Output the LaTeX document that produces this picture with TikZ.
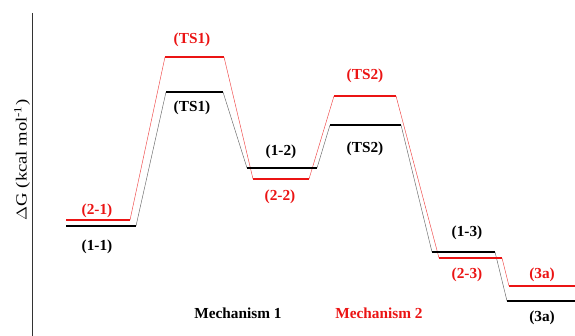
\documentclass[tikz,border=0pt]{standalone}
\usepackage{fontspec}
\setmainfont{Liberation Serif}
\definecolor{mred}{RGB}{235,20,20}
\begin{document}
\begin{tikzpicture}[x=1pt,y=-1pt,
  level/.style={line width=2.6pt},
  link/.style={line width=0.45pt},
  lab/.style={font=\bfseries\fontsize{15.3}{17}\selectfont, inner sep=0pt}]
\useasboundingbox (0,0) rectangle (575,336);

% energy axis
\draw[line width=0.8pt, black!80] (32,13) coordinate (axtop) -- (32,336) coordinate (axbot);
\node[rotate=90, font=\fontsize{15.5}{17}\selectfont, inner sep=0pt] (ylab) at (22,160)
  {\scalebox{1.2}[1]{$\Delta$G (kcal mol\textsuperscript{-1})}};

% mechanism 1 (black) levels
\coordinate (b1l) at (66,226);  \coordinate (b1r) at (136,226);
\coordinate (b2l) at (166,92);  \coordinate (b2r) at (223,92);
\coordinate (b3l) at (247,168); \coordinate (b3r) at (317,168);
\coordinate (b4l) at (330,125); \coordinate (b4r) at (401,125);
\coordinate (b5l) at (432,252); \coordinate (b5r) at (495,252);
\coordinate (b6l) at (507,301); \coordinate (b6r) at (575,301);

% mechanism 2 (red) levels
\coordinate (r1l) at (66,220);  \coordinate (r1r) at (130,220);
\coordinate (r2l) at (165,57);  \coordinate (r2r) at (224,57);
\coordinate (r3l) at (253,179); \coordinate (r3r) at (309,179);
\coordinate (r4l) at (334,96);  \coordinate (r4r) at (396,96);
\coordinate (r5l) at (439,258); \coordinate (r5r) at (502,258);
\coordinate (r6l) at (509,286); \coordinate (r6r) at (575,286);

% connecting paths
\draw[link, black!60] (b1r) -- (b2l) (b2r) -- (b3l) (b3r) -- (b4l)
  (b4r) -- (b5l) (b5r) -- (b6l);
\draw[link, mred!80] (r1r) -- (r2l) (r2r) -- (r3l) (r3r) -- (r4l)
  (r4r) -- (r5l) (r5r) -- (r6l);

% level bars
\foreach \i in {1,...,6} {
  \draw[level, mred] (r\i l) -- (r\i r);
  \draw[level, black] (b\i l) -- (b\i r);
}

% black labels
\node[lab] (t11) at (97,247) {(1-1)};
\node[lab] (tts1) at (192,108) {(TS1)};
\node[lab] (t12) at (281,152) {(1-2)};
\node[lab] (tts2) at (365,149) {(TS2)};
\node[lab] (t13) at (467,233) {(1-3)};
\node[lab] (t3a) at (542,318) {(3a)};

% red labels
\node[lab, mred] (t21) at (97,211) {(2-1)};
\node[lab, mred] (rts1) at (192,40) {(TS1)};
\node[lab, mred] (t22) at (280,197) {(2-2)};
\node[lab, mred] (rts2) at (365,76) {(TS2)};
\node[lab, mred] (t23) at (467,275) {(2-3)};
\node[lab, mred] (r3a) at (542,275) {(3a)};

% legend
\node[lab] (m1) at (238,313) {Mechanism 1};
\node[lab, mred] (m2) at (379,313) {Mechanism 2};
\end{tikzpicture}
\end{document}
